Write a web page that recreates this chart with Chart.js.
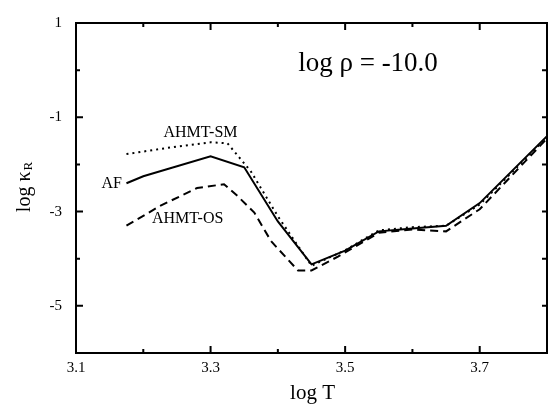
<!DOCTYPE html>
<html>
<head>
<meta charset="utf-8">
<script src="https://cdn.jsdelivr.net/npm/chart.js@4"></script>
<style>
  html, body { margin: 0; padding: 0; background: #fff; }
  #wrap { width: 553px; height: 406px; }
</style>
</head>
<body>
<div id="wrap"><canvas id="opacityChart" width="553" height="406"></canvas></div>
<script>
// log T / log kappa_R values
const afLogT = [3.175, 3.2, 3.3, 3.35, 3.4, 3.45, 3.5, 3.55, 3.6, 3.65, 3.7, 3.8];
const afLogK = [-2.40, -2.25, -1.83, -2.06, -3.21, -4.12, -3.83, -3.42, -3.36, -3.30, -2.82, -1.40];

const smLogT = [3.175, 3.25, 3.3, 3.325, 3.36, 3.4, 3.45, 3.5, 3.55, 3.6, 3.65, 3.7, 3.8];
const smLogK = [-1.78, -1.62, -1.53, -1.55, -2.15, -3.10, -4.15, -3.82, -3.40, -3.33, -3.30, -2.85, -1.42];

const osLogT = [3.175, 3.225, 3.28, 3.32, 3.34, 3.365, 3.39, 3.43, 3.45, 3.49, 3.55, 3.6, 3.65, 3.7, 3.8];
const osLogK = [-3.30, -2.88, -2.50, -2.42, -2.67, -3.02, -3.63, -4.25, -4.25, -3.95, -3.45, -3.38, -3.42, -2.95, -1.45];

const xTickLabels = ['3.1', '3.3', '3.5', '3.7'];
const yTickLabels = ['1', '-1', '-3', '-5'];

// text labels placed in data coordinates
const curveLabels = [
    { text: 'AHMT-SM', x: 3.285, y: -1.33, size: 16 },
    { text: 'AF', x: 3.153, y: -2.42, size: 16 },
    { text: 'AHMT-OS', x: 3.266, y: -3.15, size: 16 },
    { text: 'log ρ = -10.0', x: 3.534, y: 0.14, size: 27 }
];

const serif = '"Liberation Serif", "DejaVu Serif", serif';

function toPoints(xs, ys) {
    return xs.map((x, i) => ({ x: x, y: ys[i] }));
}

// frame, inward ticks, labels and axis titles
const framePlugin = {
    id: 'frame',
    afterDraw(chart) {
        const { ctx, chartArea: a, scales } = chart;
        const xs = scales.x, ys = scales.y;
        ctx.save();
        ctx.strokeStyle = '#000';
        ctx.lineWidth = 2;
        ctx.strokeRect(a.left, a.top, a.right - a.left, a.bottom - a.top);

        for (let i = 1; i <= 7; i++) {
            const v = 3.1 + i * 0.1;
            const px = xs.getPixelForValue(v);
            const len = i % 2 === 0 ? 7 : 4;
            ctx.beginPath();
            ctx.moveTo(px, a.bottom); ctx.lineTo(px, a.bottom - len);
            ctx.moveTo(px, a.top); ctx.lineTo(px, a.top + len);
            ctx.stroke();
        }
        for (let v = -5; v <= 0; v++) {
            const py = ys.getPixelForValue(v);
            const major = Math.abs(v) % 2 === 1;
            ctx.beginPath();
            ctx.moveTo(a.left, py); ctx.lineTo(a.left + (major ? 7 : 4), py);
            ctx.moveTo(a.right, py); ctx.lineTo(a.right - 5, py);
            ctx.stroke();
        }

        ctx.fillStyle = '#000';
        ctx.textAlign = 'center';
        ctx.textBaseline = 'middle';
        curveLabels.forEach(l => {
            ctx.font = l.size + 'px ' + serif;
            ctx.fillText(l.text, xs.getPixelForValue(l.x), ys.getPixelForValue(l.y));
        });

        // x title
        ctx.font = '21px ' + serif;
        ctx.fillText('log T', (a.left + a.right) / 2 + 1, 393);

        // y title with subscript
        ctx.translate(25, 187);
        ctx.rotate(-Math.PI / 2);
        ctx.textAlign = 'left';
        ctx.font = '20px ' + serif;
        const main = 'log κ';
        const w = ctx.measureText(main).width;
        ctx.font = '13px ' + serif;
        const sw = ctx.measureText('R').width;
        const start = -(w + sw + 1) / 2;
        ctx.font = '20px ' + serif;
        ctx.fillText(main, start, 0);
        ctx.font = '13px ' + serif;
        ctx.fillText('R', start + w + 1, 4);
        ctx.restore();
    }
};

new Chart(document.getElementById('opacityChart'), {
    type: 'scatter',
    data: {
        datasets: [
            {
                label: 'AHMT-SM',
                data: toPoints(smLogT, smLogK),
                showLine: true,
                borderColor: '#000',
                borderWidth: 2,
                borderDash: [2, 4],
                pointRadius: 0
            },
            {
                label: 'AF',
                data: toPoints(afLogT, afLogK),
                showLine: true,
                borderColor: '#000',
                borderWidth: 2,
                pointRadius: 0
            },
            {
                label: 'AHMT-OS',
                data: toPoints(osLogT, osLogK),
                showLine: true,
                borderColor: '#000',
                borderWidth: 2,
                borderDash: [8, 5],
                pointRadius: 0
            }
        ]
    },
    options: {
        responsive: false,
        animation: false,
        events: [],
        layout: { padding: { top: 16, right: 1, left: 0, bottom: 0 } },
        plugins: {
            legend: { display: false },
            tooltip: { enabled: false }
        },
        scales: {
            x: {
                type: 'linear',
                min: 3.1,
                max: 3.8,
                afterFit(scale) { scale.height = 53; },
                grid: { display: false, drawTicks: false },
                border: { display: false },
                ticks: {
                    stepSize: 0.1,
                    autoSkip: false,
                    maxRotation: 0,
                    padding: 6,
                    color: '#000',
                    font: { family: serif, size: 15 },
                    callback: v => {
                        const s = v.toFixed(1);
                        return xTickLabels.includes(s) ? s : '';
                    }
                }
            },
            y: {
                type: 'linear',
                min: -6,
                max: 1,
                afterFit(scale) { scale.width = 76; },
                grid: { display: false, drawTicks: false },
                border: { display: false },
                ticks: {
                    stepSize: 1,
                    autoSkip: false,
                    padding: 14,
                    color: '#000',
                    font: { family: serif, size: 15 },
                    callback: v => {
                        const s = String(v);
                        return yTickLabels.includes(s) ? s : '';
                    }
                }
            }
        }
    },
    plugins: [framePlugin]
});
</script>
</body>
</html>
